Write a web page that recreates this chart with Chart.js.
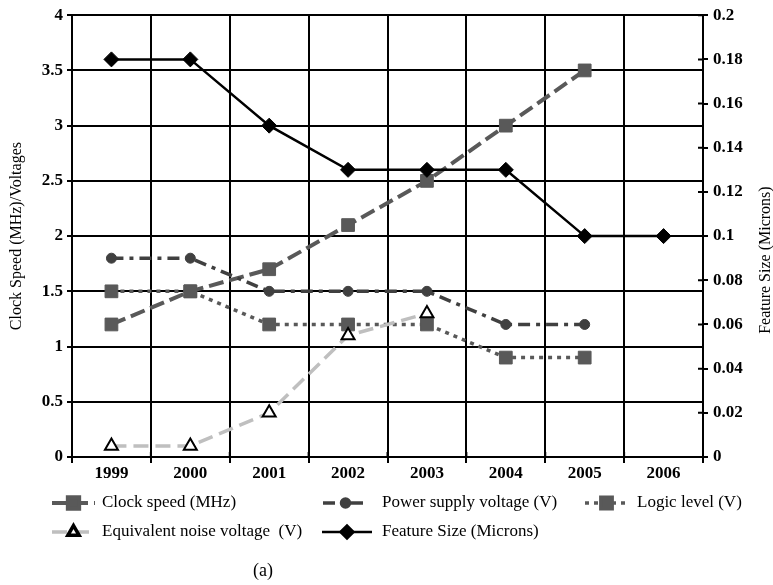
<!DOCTYPE html>
<html>
<head>
<meta charset="utf-8">
<script src="https://cdn.jsdelivr.net/npm/chart.js@4.4.1/dist/chart.umd.min.js"></script>
<style>
  html, body { margin: 0; padding: 0; background: #fff; }
</style>
</head>
<body>
<canvas id="trends" width="773" height="585"></canvas>
<script>
// yearly values, null where a series has no point
const years = ["1999", "2000", "2001", "2002", "2003", "2004", "2005", "2006"];
const clockSpeed = [1.2, 1.5, 1.7, 2.1, 2.5, 3.0, 3.5, null];
const supplyVoltage = [1.8, 1.8, 1.5, 1.5, 1.5, 1.2, 1.2, null];
const logicLevel = [1.5, 1.5, 1.2, 1.2, 1.2, 0.9, 0.9, null];
const noiseVoltage = [0.1, 0.1, 0.4, 1.1, 1.3, null, null, null];
const featureSize = [0.18, 0.18, 0.15, 0.13, 0.13, 0.13, 0.10, 0.10];

const SERIF = "'Liberation Serif', 'Times New Roman', serif";

// slots for the hand-drawn legend under the plot
const legendSlots = [
  { x0: 52, x1: 95, y: 503, tx: 102 },
  { x0: 323, x1: 368, y: 503, tx: 382 },
  { x0: 585, x1: 628, y: 503, tx: 637 },
  { x0: 52, x1: 95, y: 532, tx: 102 },
  { x0: 322, x1: 372, y: 532, tx: 382 },
];

// 0.10 -> "0.1", 4.0 -> "4"
const plainNumber = v => String(Number(v.toFixed(2)));

const legendPlugin = {
  id: "lineLegend",
  afterDraw(chart) {
    const ctx = chart.ctx;
    chart.data.datasets.forEach((ds, i) => {
      const s = legendSlots[i];
      ctx.save();
      ctx.strokeStyle = ds.borderColor;
      ctx.lineWidth = ds.borderWidth;
      ctx.setLineDash(ds.borderDash || []);
      ctx.beginPath();
      ctx.moveTo(s.x0, s.y);
      ctx.lineTo(s.x1, s.y);
      ctx.stroke();
      ctx.setLineDash([]);
      ctx.fillStyle = ds.pointBackgroundColor;
      ctx.strokeStyle = ds.pointBorderColor;
      Chart.helpers.drawPoint(ctx, {
        pointStyle: ds.pointStyle,
        radius: ds.pointRadius - 1,
        borderWidth: ds.pointBorderWidth,
        rotation: 0
      }, (s.x0 + s.x1) / 2, s.y);
      ctx.fillStyle = "#000";
      ctx.font = "17px " + SERIF;
      ctx.textBaseline = "middle";
      ctx.textAlign = "left";
      ctx.fillText(ds.label, s.tx, s.y);
      ctx.restore();
    });

    ctx.save();
    ctx.fillStyle = "#000";
    ctx.font = "18px " + SERIF;
    ctx.textAlign = "center";
    ctx.textBaseline = "middle";
    ctx.fillText("(a)", 263, 571);
    ctx.restore();

    // right axis title, reading bottom to top like the left one
    const y2 = chart.scales.y2;
    ctx.save();
    ctx.translate(766, (y2.top + y2.bottom) / 2 + 24);
    ctx.rotate(-Math.PI / 2);
    ctx.fillStyle = "#000";
    ctx.font = "16px " + SERIF;
    ctx.textAlign = "center";
    ctx.textBaseline = "middle";
    ctx.fillText("Feature Size (Microns)", 0, 0);
    ctx.restore();
  }
};

// short tick marks that cross into the plot on the x axis and right axis
const crossTicks = {
  id: "crossTicks",
  afterDraw(chart) {
    const ctx = chart.ctx;
    const x = chart.scales.x;
    const y2 = chart.scales.y2;
    ctx.save();
    ctx.strokeStyle = "#000";
    ctx.lineWidth = 2;
    ctx.beginPath();
    const half = (x.getPixelForValue(1) - x.getPixelForValue(0)) / 2;
    for (let i = 0; i <= years.length; i++) {
      const px = x.getPixelForValue(i) - half;
      ctx.moveTo(px, x.top);
      ctx.lineTo(px, x.top - 5);
    }
    y2.ticks.forEach(t => {
      const py = y2.getPixelForValue(t.value);
      ctx.moveTo(y2.left, py);
      ctx.lineTo(y2.left - 5, py);
    });
    ctx.stroke();
    ctx.restore();
  }
};

const ctx = document.getElementById("trends").getContext("2d");
const trendChart = new Chart(ctx, {
  type: "line",
  data: {
    labels: years,
    datasets: [
      {
        label: "Clock speed (MHz)",
        data: clockSpeed,
        yAxisID: "y",
        borderColor: "#595959",
        borderWidth: 4,
        borderDash: [15, 6],
        pointStyle: "rect",
        pointRadius: 9,
        pointBackgroundColor: "#595959",
        pointBorderColor: "#595959",
        pointBorderWidth: 1,
        order: 3
      },
      {
        label: "Power supply voltage (V)",
        data: supplyVoltage,
        yAxisID: "y",
        borderColor: "#404040",
        borderWidth: 3.5,
        borderDash: [12, 6, 4, 6],
        pointStyle: "circle",
        pointRadius: 5,
        pointBackgroundColor: "#404040",
        pointBorderColor: "#404040",
        pointBorderWidth: 1,
        order: 2
      },
      {
        label: "Logic level (V)",
        data: logicLevel,
        yAxisID: "y",
        borderColor: "#595959",
        borderWidth: 3.5,
        borderDash: [4, 5],
        pointStyle: "rect",
        pointRadius: 9,
        pointBackgroundColor: "#595959",
        pointBorderColor: "#595959",
        pointBorderWidth: 1,
        order: 4
      },
      {
        label: "Equivalent noise voltage  (V)",
        data: noiseVoltage,
        yAxisID: "y",
        borderColor: "#bfbfbf",
        borderWidth: 3.5,
        borderDash: [15, 7],
        pointStyle: "triangle",
        pointRadius: 7.5,
        pointBackgroundColor: "#ffffff",
        pointBorderColor: "#000000",
        pointBorderWidth: 2,
        order: 1
      },
      {
        label: "Feature Size (Microns)",
        data: featureSize,
        yAxisID: "y2",
        borderColor: "#000000",
        borderWidth: 2.5,
        borderDash: [],
        pointStyle: "rectRot",
        pointRadius: 7.5,
        pointBackgroundColor: "#000000",
        pointBorderColor: "#000000",
        pointBorderWidth: 1,
        order: 0
      }
    ]
  },
  options: {
    responsive: false,
    animation: false,
    devicePixelRatio: 1,
    spanGaps: false,
    layout: { padding: { top: 12, left: 0, right: 0, bottom: 0 } },
    plugins: {
      legend: { display: false },
      tooltip: { enabled: false }
    },
    scales: {
      x: {
        offset: true,
        grid: { color: "#000", lineWidth: 2, offset: true, tickLength: 6 },
        border: { color: "#000", width: 2 },
        ticks: {
          color: "#000",
          padding: 0,
          font: { family: SERIF, size: 17, weight: "bold" }
        },
        afterFit(scale) { scale.height = 128; }
      },
      y: {
        position: "left",
        min: 0,
        max: 4,
        grid: { color: "#000", lineWidth: 2, tickLength: 5 },
        border: { color: "#000", width: 2 },
        ticks: {
          stepSize: 0.5,
          color: "#000",
          padding: 4,
          callback: v => plainNumber(v),
          font: { family: SERIF, size: 17, weight: "bold" }
        },
        title: {
          display: true,
          text: "Clock Speed (MHz)/Voltages",
          color: "#000",
          padding: { top: 7, bottom: 0 },
          font: { family: SERIF, size: 16 }
        },
        afterFit(scale) { scale.width = 72; }
      },
      y2: {
        position: "right",
        min: 0,
        max: 0.2,
        grid: { drawOnChartArea: false, color: "#000", lineWidth: 2, tickLength: 5 },
        border: { color: "#000", width: 2 },
        ticks: {
          stepSize: 0.02,
          color: "#000",
          padding: 5,
          callback: v => plainNumber(v),
          font: { family: SERIF, size: 17, weight: "bold" }
        },
        title: { display: false },
        afterFit(scale) { scale.width = 70; }
      }
    }
  },
  plugins: [legendPlugin, crossTicks]
});
</script>
</body>
</html>
